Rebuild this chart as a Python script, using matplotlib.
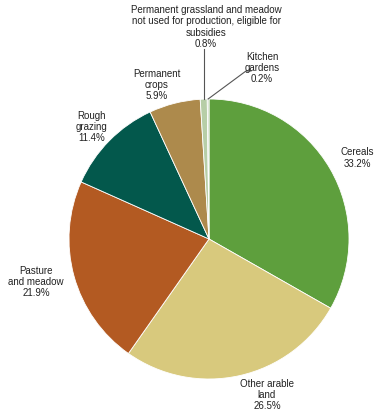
import numpy as np
import matplotlib
matplotlib.use("Agg")
import matplotlib.pyplot as plt

plt.rcParams['font.family'] = ['Liberation Sans', 'DejaVu Sans']

# Data
labels = ["Cereals", "Other arable\nland", "Pasture\nand meadow", "Rough\ngrazing",
          "Permanent\ncrops",
          "Permanent grassland and meadow\nnot used for production, eligible for\nsubsidies",
          "Kitchen\ngardens"]
shares = [33.2, 26.5, 21.9, 11.4, 5.9, 0.8, 0.2]
colors = ["#5e9f3d", "#d8c97d", "#b35a22", "#03584c", "#ad8a4c", "#b7cea7", "#cad9be"]

# label positions in pixels (x, y from top)
label_pos = [(357, 158), (267, 395), (36, 282), (92, 127), (157, 85), (206, 27), (262, 68)]

W, H = 375, 411
fig = plt.figure(figsize=(W / 100, H / 100), dpi=100)
ax = fig.add_axes([0, 0, 1, 1])
ax.set_xlim(0, W)
ax.set_ylim(0, H)
ax.axis("off")

cx, cy, r = 209, H - 239, 140
wedges, _ = ax.pie(shares, colors=colors, startangle=90, counterclock=False,
                   center=(cx, cy), radius=r, frame=True,
                   wedgeprops=dict(edgecolor="white", linewidth=0.6))
ax.set_xlim(0, W)
ax.set_ylim(0, H)
ax.set_aspect("equal")
ax.axis("off")

for lab, val, (px, py) in zip(labels, shares, label_pos):
    ax.text(px, H - py, f"{lab}\n{val:.1f}%", ha="center", va="center",
            fontsize=7, color="#222222", linespacing=1.15)

# leader lines for the two small slices
for w, end in [(wedges[5], [(204, 49)]), (wedges[6], [(246, 71), (251, 71)])]:
    ang = np.deg2rad((w.theta1 + w.theta2) / 2)
    x0, y0 = cx + r * np.cos(ang), cy + r * np.sin(ang)
    xs = [x0] + [e[0] for e in end]
    ys = [y0] + [H - e[1] for e in end]
    if len(end) == 1:
        xs[1] = x0
    ax.plot(xs, ys, color="#555555", linewidth=0.8)

fig.savefig("out.png", dpi=100)
